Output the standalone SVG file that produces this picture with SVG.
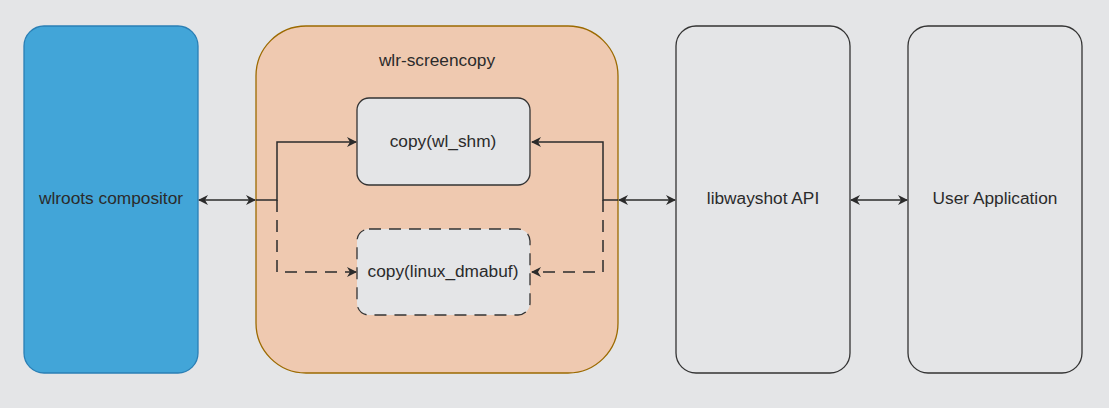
<svg xmlns="http://www.w3.org/2000/svg" width="1109" height="408" viewBox="0 0 1109 408">
<style>
text{font-family:"Liberation Sans",Arial,sans-serif;font-size:17.3px;fill:#2b2b2b;text-anchor:middle;dominant-baseline:central}
.box{fill:#e4e5e7;stroke:#333;stroke-width:1.3}
.ln{fill:none;stroke:#2b2b2b;stroke-width:1.5}
.dash{stroke-dasharray:12 8}
</style>
<defs>
<marker id="ah" viewBox="0 0 10 10" refX="9" refY="5" markerWidth="10" markerHeight="10" markerUnits="userSpaceOnUse" orient="auto-start-reverse">
<path d="M0,0 L10,5 L0,10 L3,5 Z" fill="#2b2b2b"/>
</marker>
</defs>
<rect width="1109" height="408" fill="#e4e5e7"/>
<g id="wlroots">
<rect x="24" y="26" width="174" height="347" rx="20" fill="#42a5d8" stroke="#2a7fb5" stroke-width="1.3"/>
<text x="111" y="198">wlroots compositor</text>
</g>
<g id="screencopy">
<rect x="256" y="26" width="362" height="347" rx="50" fill="#efc9b0" stroke="#9c6a00" stroke-width="1.3"/>
<text x="437" y="60">wlr-screencopy</text>
</g>
<g id="wl_shm">
<rect class="box" x="357" y="98" width="173" height="87" rx="12"/>
<text x="443" y="141">copy(wl_shm)</text>
</g>
<g id="dmabuf">
<rect class="box dash" x="357" y="229" width="173" height="86" rx="12"/>
<text x="443" y="271">copy(linux_dmabuf)</text>
</g>
<g id="libwayshot">
<rect class="box" x="676" y="26" width="174" height="347" rx="20"/>
<text x="763" y="198">libwayshot API</text>
</g>
<g id="userapp">
<rect class="box" x="908" y="26" width="174" height="347" rx="20"/>
<text x="995" y="198">User Application</text>
</g>
<g id="connectors">
<line class="ln" x1="199" y1="200" x2="255" y2="200" marker-start="url(#ah)" marker-end="url(#ah)"/>
<polyline class="ln" points="256,200 277,200 277,142 356,142" marker-end="url(#ah)"/>
<polyline class="ln dash" points="277,200 277,272 356,272" marker-end="url(#ah)"/>
<line class="ln" x1="619" y1="200" x2="675" y2="200" marker-start="url(#ah)" marker-end="url(#ah)"/>
<polyline class="ln" points="618,200 603,200 603,142 532,142" marker-end="url(#ah)"/>
<polyline class="ln dash" points="603,200 603,272 532,272" marker-end="url(#ah)"/>
<line class="ln" x1="851" y1="200" x2="907" y2="200" marker-start="url(#ah)" marker-end="url(#ah)"/>
</g>
</svg>
